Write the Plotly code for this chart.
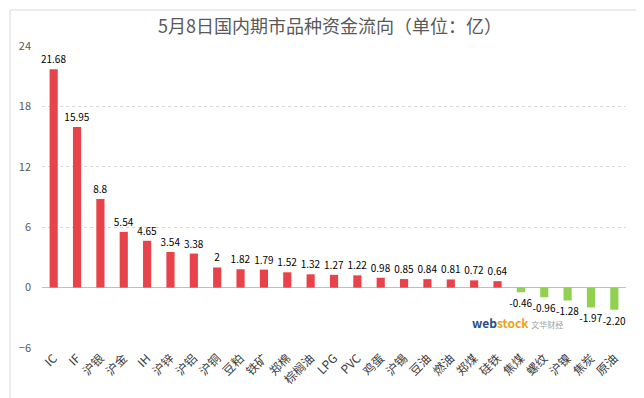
import plotly.graph_objects as go

categories = ["IC", "IF", "沪银", "沪金", "IH", "沪锌", "沪铝", "沪铜", "豆粕", "铁矿",
              "郑棉", "棕榈油", "LPG", "PVC", "鸡蛋", "沪锡", "豆油", "燃油", "郑煤", "硅铁",
              "焦煤", "螺纹", "沪镍", "焦炭", "原油"]
values = [21.68, 15.95, 8.8, 5.54, 4.65, 3.54, 3.38, 2, 1.82, 1.79,
          1.52, 1.32, 1.27, 1.22, 0.98, 0.85, 0.84, 0.81, 0.72, 0.64,
          -0.46, -0.96, -1.28, -1.97, -2.20]
value_labels = ["21.68", "15.95", "8.8", "5.54", "4.65", "3.54", "3.38", "2", "1.82", "1.79",
                "1.52", "1.32", "1.27", "1.22", "0.98", "0.85", "0.84", "0.81", "0.72", "0.64",
                "-0.46", "-0.96", "-1.28", "-1.97", "-2.20"]
y_ticks = [-6, 0, 6, 12, 18, 24]

RED = "#E8434B"
GREEN = "#92D050"
colors = [RED if v >= 0 else GREEN for v in values]

FONT = "Noto Sans CJK SC"

fig = go.Figure(go.Bar(
    x=categories, y=values, marker_color=colors, marker_line_width=0,
    text=value_labels, textposition="outside", cliponaxis=False,
    textfont=dict(family=FONT, size=10, color="#000000"),
))

fig.update_layout(
    width=644, height=398,
    margin=dict(l=34, r=26, t=38, b=58),
    paper_bgcolor="white", plot_bgcolor="white",
    showlegend=False,
    bargap=0.65,
    font=dict(family=FONT, size=11, color="#595959"),
    title=dict(text="5月8日国内期市品种资金流向（单位：亿）", x=0.5, xanchor="center",
               y=0.952, yanchor="middle",
               font=dict(family=FONT, size=18, color="#595959")),
    uniformtext=dict(minsize=8, mode="show"),
)
fig.update_yaxes(range=[-6, 24], tickvals=y_ticks, showgrid=True, gridcolor="#D9D9D9",
                 griddash="dot", gridwidth=1, zeroline=True, zerolinecolor="#BFBFBF",
                 zerolinewidth=1, showline=False, ticks="", ticklabelstandoff=10,
                 automargin=False,
                 tickfont=dict(family=FONT, size=11, color="#595959"))
fig.update_xaxes(tickangle=-45, showgrid=False, showline=False, ticks="",
                 automargin=False,
                 tickfont=dict(family=FONT, size=12, color="#404040"))

fig.add_shape(type="rect", xref="paper", yref="paper",
              x0=(2 - 34) / 584, x1=(641 - 34) / 584,
              y0=(340 - 395) / 302, y1=(340 - 2) / 302,
              line=dict(color="#D9D9D9", width=1), fillcolor="rgba(0,0,0,0)", layer="below")

fig.add_annotation(xref="paper", yref="paper", x=(557 - 34) / 584, y=(340 - 325) / 302,
                   text="<b><span style='color:#2B4C8C'>web</span><span style='color:#F0A020'>stock</span></b>"
                        " <span style='color:#A0A0A0;font-size:8px'>文华财经</span>",
                   showarrow=False, font=dict(family=FONT, size=12))

fig.write_html("out.html")
